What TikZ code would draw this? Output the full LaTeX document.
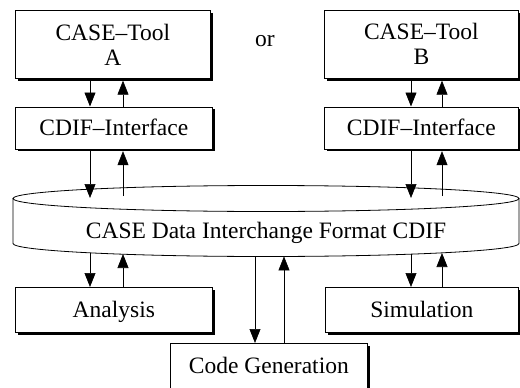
\documentclass[tikz,border=0pt]{standalone}
\usepackage{fontspec}
\setmainfont{Liberation Serif}
\usetikzlibrary{arrows.meta,shadows}
\begin{document}
\begin{tikzpicture}[x=1pt,y=-1pt,
  lbl/.style={font=\fontsize{23.5}{25}\selectfont, text height=15.6pt, text depth=0pt},
  box/.style={lbl, draw, line width=0.7pt, fill=white, anchor=north west, inner sep=0pt, align=center,
    drop shadow={shadow xshift=2.2pt, shadow yshift=-2.2pt, fill=black, opacity=1}},
  twoline/.style={text height={}, text depth={}},
  arr/.style={-{Triangle[width=11pt,length=14pt]}, line width=0.6pt},
  into/.style={arr, shorten >=2pt}]
\useasboundingbox (0,0) rectangle (520,388);
\clip (0,0) rectangle (520,388);

% cylinder
\draw[line width=0.8pt, fill=white] (13,198.5) -- (13,243.5)
  arc[start angle=180, end angle=360, x radius=253pt, y radius=13pt] -- (519,198.5);
\draw[line width=0.8pt] (266,198.5) ellipse [x radius=253pt, y radius=13pt];
\node[lbl] (cdif) at (266,230.5) {CASE Data Interchange Format CDIF};

% boxes
\node[box, twoline, minimum width=195pt, minimum height=68pt] (A) at (15,10) {CASE--Tool\\A};
\node[box, twoline, minimum width=194pt, minimum height=68pt] (B) at (324,10) {CASE--Tool\\B};
\node[lbl, anchor=base] (or) at (265,46) {or};
\node[box, minimum width=197pt, minimum height=42pt] (IA) at (15,106.5) {CDIF--Interface};
\node[box, minimum width=194pt, minimum height=42pt] (IB) at (324,106.5) {CDIF--Interface};
\node[box, minimum width=197pt, minimum height=45pt] (AN) at (15,287) {Analysis};
\node[box, minimum width=193pt, minimum height=45pt] (SIM) at (325,287) {Simulation};
\node[box, minimum width=197pt, minimum height=45pt] (CG) at (170,343) {Code Generation};

% columns and cylinder attach points
\coordinate (xa) at (90,0);
\coordinate (xb) at (123,0);
\coordinate (xc) at (411,0);
\coordinate (xd) at (442,0);
\coordinate (ct1) at (90,198);
\coordinate (ct2) at (123,196);
\coordinate (ct3) at (411,198);
\coordinate (ct4) at (442,196);
\coordinate (cb1) at (90,253);
\coordinate (cb2) at (123,254);
\coordinate (cb3) at (255,256.5);
\coordinate (cb4) at (284,256.4);
\coordinate (cb5) at (411,254);
\coordinate (cb6) at (442,253);

% arrows top
\draw[arr] (A.south -| xa) -- (IA.north -| xa);
\draw[into] (IA.north -| xb) -- (A.south -| xb);
\draw[arr] (B.south -| xc) -- (IB.north -| xc);
\draw[into] (IB.north -| xd) -- (B.south -| xd);
\draw[arr] (IA.south -| xa) -- (ct1);
\draw[into] (ct2) -- (IA.south -| xb);
\draw[arr] (IB.south -| xc) -- (ct3);
\draw[into] (ct4) -- (IB.south -| xd);

% arrows bottom
\draw[arr] (cb1) -- (AN.north -| cb1);
\draw[arr] (AN.north -| cb2) -- (cb2);
\draw[arr] (cb3) -- (CG.north -| cb3);
\draw[arr] (CG.north -| cb4) -- (cb4);
\draw[arr] (cb5) -- (SIM.north -| cb5);
\draw[arr] (SIM.north -| cb6) -- (cb6);
\end{tikzpicture}
\end{document}
